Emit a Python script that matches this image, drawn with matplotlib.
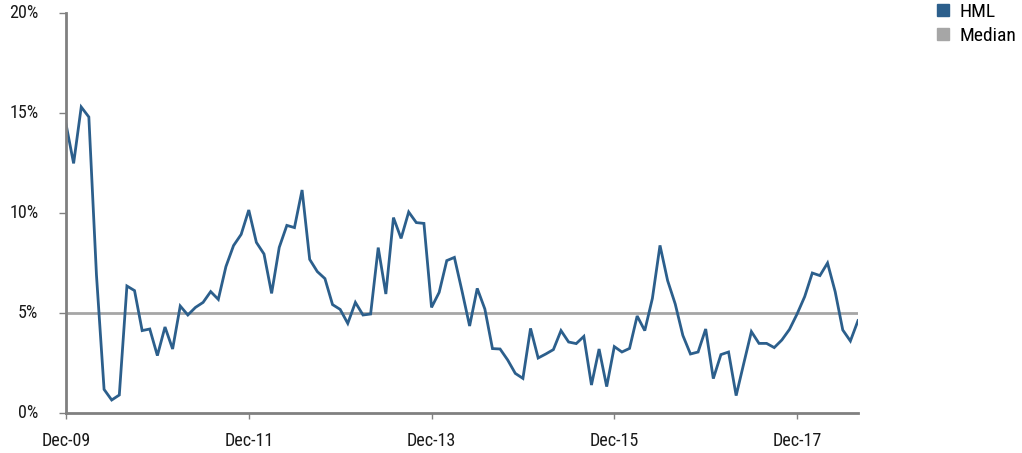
import matplotlib
matplotlib.use("Agg")
import matplotlib.pyplot as plt
import matplotlib.patches as mpatches
from matplotlib import font_manager
import pandas as pd

# ---- data ----
start_month = "2009-12"
hml_values = [
    14.45, 12.48, 15.3, 14.8, 6.9, 1.18, 0.65, 0.9, 6.35, 6.12, 4.12, 4.2,
    2.87, 4.3, 3.2, 5.35, 4.9, 5.28, 5.53, 6.07, 5.68, 7.32, 8.37, 8.93,
    10.15, 8.53, 7.95, 5.98, 8.28, 9.38, 9.27, 11.15, 7.68, 7.07, 6.72, 5.42,
    5.18, 4.48, 5.53, 4.9, 4.95, 8.27, 5.95, 9.77, 8.73, 10.05, 9.52, 9.48,
    5.28, 6.03, 7.62, 7.78, 6.1, 4.35, 6.23, 5.2, 3.22, 3.2, 2.65, 1.98,
    1.73, 4.23, 2.75, 2.95, 3.17, 4.12, 3.55, 3.47, 3.83, 1.4, 3.2, 1.32,
    3.32, 3.05, 3.23, 4.85, 4.12, 5.73, 8.38, 6.62, 5.45, 3.88, 2.95, 3.05,
    4.2, 1.72, 2.92, 3.05, 0.87, 2.48, 4.07, 3.48, 3.48, 3.27, 3.65, 4.18,
    4.95, 5.82, 7.0, 6.87, 7.5, 6.07, 4.15, 3.6, 4.62,
]
median_value = 5.0
y_ticks = [0, 5, 10, 15, 20]
y_tick_labels = ["0%", "5%", "10%", "15%", "20%"]
x_tick_labels = ["Dec-09", "Dec-11", "Dec-13", "Dec-15", "Dec-17"]
series_names = ["HML", "Median"]

# ---- fonts ----
available = {f.name for f in font_manager.fontManager.ttflist}
fam = [f for f in ["Roboto Condensed", "Liberation Sans Narrow", "Roboto", "DejaVu Sans"] if f in available]
plt.rcParams["font.family"] = fam

hml_color = "#2c5f8c"
median_color = "#a6a6a6"
axis_color = "#808080"

dates = pd.period_range(start=start_month, periods=len(hml_values), freq="M")
x = list(range(len(hml_values)))
tick_pos = [i for i, d in enumerate(dates) if d.month == 12 and d.year % 2 == 1]

fig = plt.figure(figsize=(10.22, 4.53), dpi=100)
ax = fig.add_axes([66 / 1022, 40 / 453, (858 - 66) / 1022, 400 / 453])

ax.axhline(median_value, color=median_color, linewidth=2.0, zorder=1)
ax.plot(x, hml_values, color=hml_color, linewidth=2.0, zorder=2, solid_joinstyle="miter")

ax.set_xlim(0, len(hml_values) - 1)
ax.set_ylim(0, 20)
ax.set_yticks(y_ticks)
ax.set_yticklabels(y_tick_labels)
ax.set_xticks(tick_pos)
ax.set_xticklabels(x_tick_labels[:len(tick_pos)])

for s in ["top", "right"]:
    ax.spines[s].set_visible(False)
for s in ["left", "bottom"]:
    ax.spines[s].set_color(axis_color)
    ax.spines[s].set_linewidth(2.0)

ax.tick_params(axis="y", direction="out", length=5, width=1, color=axis_color,
               labelsize=13, labelcolor="#1a1a1a", pad=15)
ax.tick_params(axis="x", direction="out", length=4, width=1, color=axis_color,
               labelsize=13, labelcolor="#1a1a1a", pad=10)
for lab in ax.get_yticklabels():
    lab.set_verticalalignment("center")

handles = [mpatches.Patch(color=hml_color, label=series_names[0]),
           mpatches.Patch(color=median_color, label=series_names[1])]
fig.legend(handles=handles, loc="upper left", bbox_to_anchor=(935 / 1022, 1.0 - 1 / 453),
           frameon=False, fontsize=14, handlelength=0.62, handleheight=0.62,
           handletextpad=0.55, labelspacing=0.3, borderaxespad=0.0, borderpad=0.1)

fig.savefig("out.png", dpi=100)
